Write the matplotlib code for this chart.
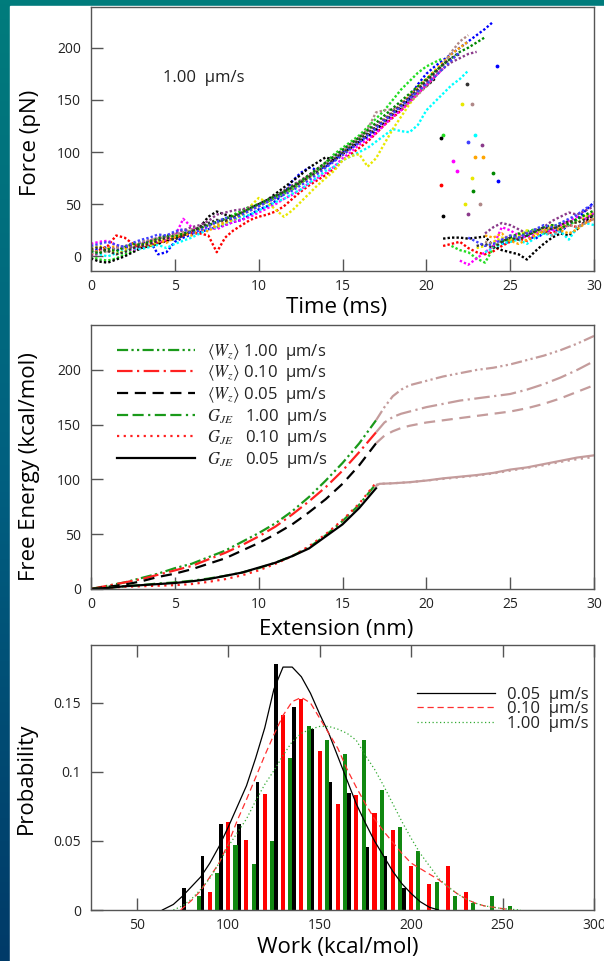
import numpy as np
import matplotlib
matplotlib.use('Agg')
import matplotlib.pyplot as plt
from matplotlib.colors import LinearSegmentedColormap
from matplotlib.patches import Rectangle

plt.rcParams['font.family'] = ['Open Sans', 'DejaVu Sans']
plt.rcParams['mathtext.fontset'] = 'stix'

# ---------------- panel 1: force traces at 1.00 um/s (every 0.5 ms) ----------------
trace_colors = ['blue', 'red', '#22dd22', 'black', 'magenta', 'cyan', '#e8e800',
                'orange', '#8b3a8b', '#b08888', '#008800', '#333333', '#4040ff']

trace_pre = [
    [5, 7, 9, 6, 8, 11, 13, 15, 2, 4, 14, 18, 21, 23, 26, 28, 30, 33, 35, 40,
     45, 48, 53, 60, 72, 80, 85, 83, 86, 92, 100, 104, 110, 114, 120, 127, 134, 141, 152, 165,
     175, 182, 188, 194, 200, 206, 212, 218, 225],
    [2, 6, 10, 20, 18, 12, 8, 10, 13, 15, 18, 20, 23, 22, 20, 4, 18, 25, 30, 35,
     38, 40, 43, 48, 55, 62, 68, 73, 78, 84, 92, 98, 104, 110, 118, 126, 133, 140, 148, 156,
     164, 172],
    [0, -3, -4, -2, 2, 5, 8, 12, 14, 16, 18, 21, 24, 27, 30, 33, 36, 40, 44, 48,
     50, 52, 56, 60, 64, 70, 76, 82, 90, 98, 104, 110, 116, 124, 132, 140, 150, 160, 168, 176,
     182, 186, 190],
    [-2, -5, -6, -3, 0, 4, 8, 10, 12, 15, 17, 20, 24, 28, 38, 43, 40, 38, 42, 46,
     50, 54, 60, 66, 72, 78, 85, 90, 95, 92, 98, 104, 110, 116, 122, 128, 136, 143, 150, 157,
     163, 170],
    [12, 14, 15, 11, 8, 6, 9, 12, 14, 16, 19, 36, 28, 24, 28, 26, 30, 33, 35, 38,
     42, 46, 50, 55, 59, 64, 70, 75, 80, 86, 94, 100, 107, 112, 118, 126, 134, 140, 148, 156,
     164, 172, 180],
    [4, 2, 0, 3, 6, 8, 7, 9, 11, 8, 12, 15, 18, 22, 26, 28, 32, 35, 38, 40,
     44, 48, 52, 55, 60, 64, 70, 76, 82, 86, 92, 96, 100, 104, 110, 116, 122, 120, 119, 126,
     140, 148, 156, 164, 170, 178],
    [8, 10, 6, 3, 5, 9, 12, 10, 14, 17, 20, 22, 25, 26, 30, 28, 32, 35, 40, 48,
     56, 52, 45, 38, 44, 52, 60, 68, 75, 82, 92, 96, 98, 86, 94, 108, 122, 134, 146, 156,
     164, 172, 180, 188],
    [6, 4, 8, 10, 7, 12, 10, 14, 16, 13, 18, 22, 20, 26, 24, 30, 33, 36, 40, 44,
     48, 52, 56, 60, 65, 70, 75, 80, 86, 92, 98, 104, 110, 117, 124, 131, 138, 146, 154, 162,
     170, 178, 186, 194, 200, 206],
    [0, 3, 6, 8, 10, 8, 12, 15, 18, 20, 22, 25, 28, 30, 34, 40, 42, 44, 45, 47,
     50, 54, 58, 63, 68, 73, 78, 84, 90, 96, 102, 108, 114, 120, 126, 132, 139, 146, 153, 160,
     167, 174, 180, 186, 190, 194, 196],
    [3, 5, 4, 8, 10, 12, 14, 16, 17, 19, 21, 23, 26, 28, 30, 32, 35, 38, 42, 45,
     48, 52, 56, 61, 66, 72, 77, 83, 88, 94, 100, 107, 114, 122, 138, 140, 141, 142, 148, 155,
     163, 172, 184, 196, 206, 212],
    [5, 3, 7, 5, 9, 12, 11, 14, 17, 20, 19, 22, 24, 27, 30, 33, 36, 39, 42, 46,
     50, 54, 58, 62, 67, 72, 78, 84, 90, 96, 102, 108, 114, 121, 128, 135, 142, 149, 156, 163,
     170, 177, 184, 190, 196, 200, 205, 210],
    [7, 9, 5, 2, 4, 8, 10, 12, 15, 18, 16, 20, 24, 28, 32, 35, 34, 37, 41, 45,
     49, 53, 57, 62, 66, 71, 76, 81, 87, 93, 99, 105, 112, 118, 124, 130, 138, 145, 152, 160,
     168, 176, 184, 190, 194],
    [10, 12, 14, 11, 9, 13, 16, 18, 21, 20, 24, 26, 22, 25, 29, 33, 37, 36, 40, 44,
     48, 52, 56, 59, 63, 68, 73, 79, 85, 91, 97, 103, 109, 116, 123, 130, 137, 144, 151, 158,
     165, 172, 180, 188, 196],
]

# isolated points while the force drops after rupture
trace_drop_t = [[24.2, 24.3], [20.9], [21.0], [20.9, 21.0], [21.6, 21.8], [22.9],
                [22.1, 22.7, 22.3], [22.9, 23.4], [23.3, 22.5], [22.7, 23.2],
                [24.0, 22.8], [22.4], [22.5]]
trace_drop_f = [[182, 72], [68], [116], [113, 39], [91, 82], [116],
                [146, 75, 50], [95, 95], [107, 41], [146, 50],
                [80, 63], [165], [110]]

trace_post_start = [24.5, 21.0, 21.5, 21.0, 22.0, 23.5, 23.0, 23.5, 23.5, 23.5, 24.5, 23.0, 22.5]
trace_post = [
    [12, 14, 18, 20, 17, 22, 26, 24, 30, 36, 44, 52],
    [10, 12, 14, 8, 4, 2, 5, 10, 14, 17, 15, 20, 24, 22, 27, 30, 28, 33, 36],
    [10, 6, 4, -2, -6, 8, 16, 15, 20, 24, 26, 22, 28, 32, 30, 35, 40, 38],
    [17, 18, 18, 17, 18, 19, 10, 6, 4, 2, -3, 5, 12, 18, 22, 20, 26, 34, 40],
    [-4, -8, -2, 4, 10, 28, 25, 20, 18, 22, 26, 24, 30, 34, 38, 36, 42],
    [4, 8, 12, 14, 16, 12, 18, 22, 20, 24, 16, 28, 32, 30],
    [8, 10, 14, 18, 16, 20, 25, 22, 26, 30, 28, 34, 32, 38, 42],
    [20, 18, 22, 15, 12, 16, 20, 24, 28, 25, 22, 26, 32, 36],
    [22, 28, 32, 30, 26, 22, 24, 28, 34, 38, 42, 40, 44, 48],
    [14, 12, 16, 20, 18, 22, 26, 24, 20, 26, 30, 28, 32, 36],
    [14, 18, 22, 20, 24, 28, 30, 26, 32, 36, 40, 44],
    [10, 12, 8, 14, 18, 16, 20, 24, 28, 26, 30, 34, 32, 36, 40],
    [18, 14, 10, 12, 16, 20, 18, 22, 26, 30, 28, 32, 36, 40, 46, 50],
]
dt = 0.5

# ---------------- panel 2: free energy profiles ----------------
ext = [0, 1, 2, 3, 4, 5, 6, 7, 8, 9, 10, 11, 12, 13, 14, 15, 16, 17]
w_100 = [0, 3, 6, 10, 14, 19, 23, 29, 35, 43, 51, 60, 71, 84, 99, 115, 133, 154]
w_010 = [0, 3, 6, 9, 13, 17, 21, 27, 33, 40, 48, 57, 68, 80, 93, 108, 125, 143]
w_005 = [0, 2, 4, 7, 11, 14, 18, 23, 28, 35, 42, 50, 59, 70, 82, 96, 113, 133]
g_100 = [0, 1, 2.5, 3.5, 5, 6, 7.5, 9.5, 12, 15, 19, 24, 30, 38, 49, 62, 77, 96]
g_010 = [0, 1, 2, 2.5, 3, 3.5, 4.5, 6.5, 9, 12.5, 17, 23, 30, 39, 50, 63, 78, 97]
g_005 = [0, 1, 2.5, 3.5, 4.5, 5.5, 7, 9, 12, 15, 19.5, 24, 30, 37, 48, 59, 74, 92]

ext_tail = [17, 17.5, 18, 18.5, 19, 20, 21, 22, 23, 24, 25, 26, 27, 28, 29, 30]
w_100_tail = [154, 166, 176, 182, 186, 190, 194, 197, 200, 202, 205, 209, 213, 218, 224, 231]
w_010_tail = [143, 152, 157, 160, 162, 166, 169, 172, 174, 176, 178, 182, 187, 193, 200, 208]
w_005_tail = [133, 140, 144, 147, 149, 152, 154, 156, 158, 160, 162, 165, 169, 174, 180, 186]

ext_g_tail = [17, 17.2, 18, 19, 20, 21, 22, 23, 24, 25, 26, 27, 28, 29, 30]
g_tail = [94, 96, 96.5, 97.5, 99, 101, 102.5, 104, 106, 109, 111, 114, 117, 120, 122]
g_010_tail = [95, 96, 96.5, 97.5, 99, 100.5, 102, 103.5, 105.5, 108, 110.5, 113, 116, 118.5, 120.5]

# ---------------- panel 3: work distributions ----------------
work_005 = [76, 86, 96, 106, 116, 126, 136, 146, 156, 166, 176, 186, 196]
prob_005 = [0.016, 0.039, 0.062, 0.062, 0.093, 0.178, 0.147, 0.131, 0.093, 0.085, 0.046, 0.039, 0.016]
work_010 = [90, 100, 110, 120, 130, 140, 150, 160, 170, 180, 190, 200, 210, 220, 230]
prob_010 = [0.013, 0.064, 0.051, 0.084, 0.141, 0.153, 0.115, 0.077, 0.083, 0.070, 0.058, 0.032, 0.019, 0.032, 0.013]
work_100 = [84, 94, 104, 114, 124, 134, 144, 154, 164, 174, 184, 194, 204, 214, 224, 234, 244, 254]
prob_100 = [0.010, 0.027, 0.047, 0.033, 0.050, 0.110, 0.133, 0.123, 0.113, 0.123, 0.087, 0.060,
            0.043, 0.020, 0.010, 0.005, 0.010, 0.003]

fit_x_005 = [64, 70, 75, 80, 85, 90, 95, 100, 105, 110, 115, 120, 125, 130, 135, 140, 145,
             150, 155, 160, 165, 170, 175, 180, 185, 190, 195, 200, 205, 210, 215]
fit_005 = [0, 0.004, 0.010, 0.017, 0.024, 0.034, 0.046, 0.060, 0.075, 0.090, 0.110, 0.132,
           0.160, 0.176, 0.176, 0.169, 0.157, 0.142, 0.128, 0.111, 0.094, 0.077, 0.063, 0.050,
           0.039, 0.028, 0.019, 0.012, 0.006, 0.002, 0]
fit_x_010 = [74, 80, 85, 90, 95, 100, 105, 110, 115, 120, 125, 130, 135, 140, 145, 150, 155,
             160, 165, 170, 175, 180, 185, 190, 195, 200, 205, 210, 215, 220, 225, 230, 235,
             240, 245, 250, 255]
fit_010 = [0, 0.007, 0.014, 0.024, 0.034, 0.048, 0.065, 0.080, 0.096, 0.112, 0.127, 0.141,
           0.151, 0.154, 0.150, 0.139, 0.128, 0.117, 0.102, 0.089, 0.077, 0.066, 0.057, 0.049,
           0.041, 0.034, 0.030, 0.026, 0.022, 0.017, 0.012, 0.008, 0.005, 0.003, 0.002, 0.001, 0]
fit_x_100 = [70, 75, 80, 85, 90, 95, 100, 105, 110, 115, 120, 125, 130, 135, 140, 145, 150,
             155, 160, 165, 170, 175, 180, 185, 190, 195, 200, 205, 210, 215, 220, 225, 230,
             235, 240, 245, 250, 260]
fit_100 = [0, 0.003, 0.008, 0.015, 0.023, 0.034, 0.046, 0.056, 0.066, 0.079, 0.091, 0.101,
           0.112, 0.122, 0.128, 0.131, 0.133, 0.133, 0.131, 0.128, 0.123, 0.112, 0.102, 0.090,
           0.077, 0.064, 0.052, 0.041, 0.032, 0.023, 0.017, 0.012, 0.008, 0.005, 0.003, 0.002,
           0.001, 0]

# ---------------- figure ----------------
W, H = 604, 961
fig = plt.figure(figsize=(W / 100, H / 100), dpi=100)

bg = fig.add_axes([0, 0, 1, 1], zorder=-10)
grad = np.linspace(0, 1, 256).reshape(-1, 1)
cmap_bg = LinearSegmentedColormap.from_list('bg', ['#003a68', '#005f80', '#007c7c'])
bg.imshow(grad, aspect='auto', cmap=cmap_bg, extent=[0, 1, 0, 1], origin='lower')
bg.add_patch(Rectangle((10 / W, 0), 1, 1 - 6 / H, color='white'))
bg.set_xlim(0, 1)
bg.set_ylim(0, 1)
bg.axis('off')

SPINE = '#555555'


def px_axes(top, bottom):
    return fig.add_axes([91 / W, 1 - bottom / H, (594 - 91) / W, (bottom - top) / H])


def style(ax):
    for sp in ax.spines.values():
        sp.set_color(SPINE)
        sp.set_linewidth(1.0)
    ax.tick_params(direction='in', length=8.5, width=1.0, color=SPINE,
                   labelsize=10, labelcolor='#222222')
    ax.tick_params(axis='x', pad=6)
    ax.tick_params(axis='y', pad=7)


# panel 1
ax1 = px_axes(7, 271)
style(ax1)
for c, pre, dtt, dff, ps, post in zip(trace_colors, trace_pre, trace_drop_t, trace_drop_f,
                                      trace_post_start, trace_post):
    t_pre = np.arange(len(pre)) * dt
    ax1.plot(t_pre, pre, color=c, lw=1.7, ls=(0, (1, 0.9)))
    ax1.plot(dtt, dff, '.', color=c, ms=3.5)
    t_post = ps + np.arange(len(post)) * dt
    ax1.plot(t_post, post, color=c, lw=1.7, ls=(0, (1, 0.9)))
ax1.set_xlim(0, 30)
ax1.set_ylim(-14, 239)
ax1.set_xticks(range(0, 31, 5))
ax1.set_yticks(range(0, 201, 50))
ax1.set_xlabel('Time (ms)', fontsize=16, va='center')
ax1.xaxis.set_label_coords(0.489, -0.14)
ax1.set_ylabel('Force (pN)', fontsize=16, va='center')
ax1.yaxis.set_label_coords(-0.121, 0.485)
ax1.text(0.143, 0.731, '1.00  µm/s', transform=ax1.transAxes, fontsize=12,
         va='center', ha='left', color='#222222')

# panel 2
ax2 = px_axes(325, 589)
style(ax2)
GREEN = '#1a9a1a'
RED = '#ff2020'
TAIL = '#c49c9c'
ls_w100 = (0, (5, 1.5, 1, 1.5, 1, 1.5))
ls_w010 = (0, (7, 2, 1, 2))
ls_w005 = (0, (5, 3))
ls_g100 = (0, (5, 2, 5, 2, 1, 2))
ls_g010 = (0, (1, 2))
lw2 = 1.6
ax2.plot(ext, w_100, color=GREEN, lw=lw2, ls=ls_w100, label=r'$\langle W_z\rangle$ 1.00  µm/s')
ax2.plot(ext, w_010, color=RED, lw=lw2, ls=ls_w010, label=r'$\langle W_z\rangle$ 0.10  µm/s')
ax2.plot(ext, w_005, color='black', lw=lw2, ls=ls_w005, label=r'$\langle W_z\rangle$ 0.05  µm/s')
ax2.plot(ext, g_100, color=GREEN, lw=lw2, ls=ls_g100, label=r'$G_{JE}$   1.00  µm/s')
ax2.plot(ext, g_010, color=RED, lw=lw2, ls=ls_g010, label=r'$G_{JE}$   0.10  µm/s')
ax2.plot(ext, g_005, color='black', lw=lw2, ls='-', label=r'$G_{JE}$   0.05  µm/s')
ax2.plot(ext_tail, w_100_tail, color=TAIL, lw=lw2, ls=ls_w100)
ax2.plot(ext_tail, w_010_tail, color=TAIL, lw=lw2, ls=ls_w010)
ax2.plot(ext_tail, w_005_tail, color=TAIL, lw=lw2, ls=ls_w005)
ax2.plot(ext_g_tail, g_tail, color=TAIL, lw=lw2, ls='-')
ax2.plot(ext_g_tail, g_010_tail, color=TAIL, lw=lw2, ls=ls_g010)
ax2.set_xlim(0, 30)
ax2.set_ylim(0, 241)
ax2.set_xticks(range(0, 31, 5))
ax2.set_yticks(range(0, 201, 50))
ax2.set_xlabel('Extension (nm)', fontsize=16, va='center')
ax2.xaxis.set_label_coords(0.487, -0.155)
ax2.set_ylabel('Free Energy (kcal/mol)', fontsize=16, va='center')
ax2.yaxis.set_label_coords(-0.123, 0.462)
ax2.legend(loc='upper left', bbox_to_anchor=(0.052, 0.937), frameon=False, fontsize=12,
           handlelength=4.7, handletextpad=0.7, labelspacing=0.1, borderaxespad=0,
           borderpad=0, labelcolor='#222222')

# panel 3
ax3 = px_axes(645, 910)
style(ax3)
ax3.tick_params(top=True)
ax3.bar(work_005, prob_005, width=2.0, color='black', zorder=2)
ax3.bar(work_010, prob_010, width=2.2, color='#ff0000', zorder=2)
ax3.bar(work_100, prob_100, width=2.2, color='#118811', zorder=2)
ax3.plot(fit_x_005, fit_005, color='black', lw=0.9, zorder=3, label='0.05  µm/s')
ax3.plot(fit_x_010, fit_010, color='#ff3030', lw=0.9, ls=(0, (5, 3)), zorder=3, label='0.10  µm/s')
ax3.plot(fit_x_100, fit_100, color='#33aa33', lw=0.9, ls=(0, (1, 2)), zorder=3, label='1.00  µm/s')
ax3.set_xlim(25, 300)
ax3.set_ylim(0, 0.192)
ax3.set_xticks(range(50, 301, 50))
ax3.set_yticks([0, 0.05, 0.1, 0.15])
ax3.set_yticklabels(['0', '0.05', '0.1', '0.15'])
ax3.set_xlabel('Work (kcal/mol)', fontsize=16, va='center')
ax3.xaxis.set_label_coords(0.491, -0.143)
ax3.set_ylabel('Probability', fontsize=16, va='center')
ax3.yaxis.set_label_coords(-0.129, 0.498)
ax3.legend(loc='upper left', bbox_to_anchor=(0.648, 0.842), frameon=False, fontsize=12,
           handlelength=4.7, handletextpad=0.7, labelspacing=-0.1, borderaxespad=0,
           borderpad=0, labelcolor='#222222')

fig.savefig('out.png', dpi=100)
